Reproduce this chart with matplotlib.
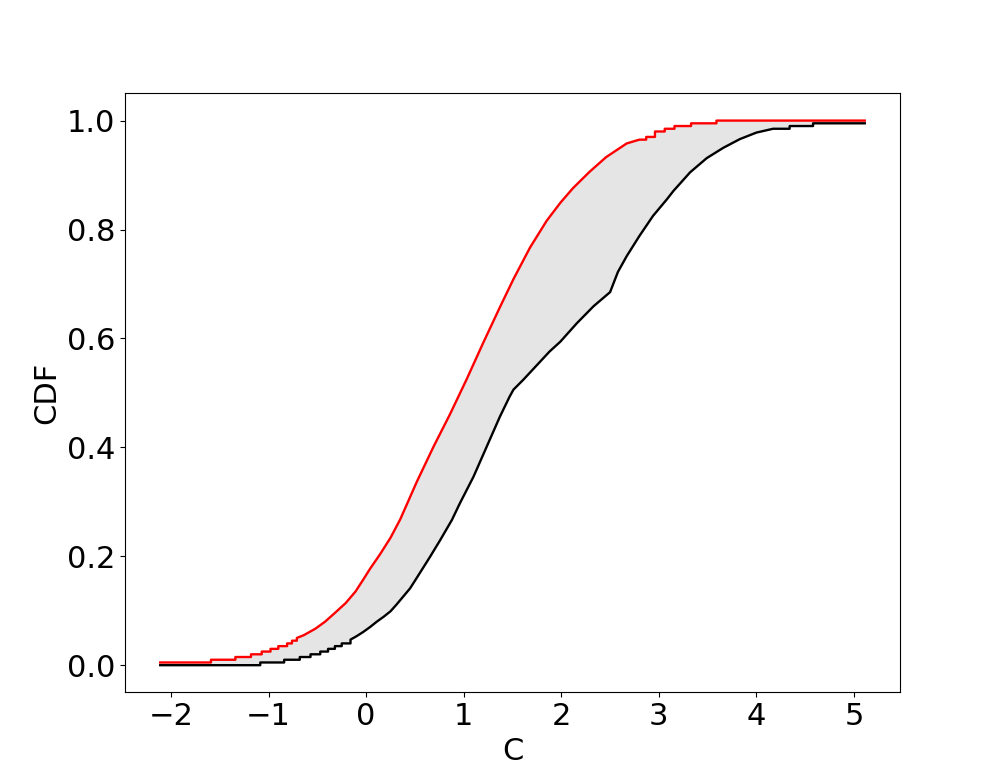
import matplotlib
matplotlib.use("Agg")
import matplotlib.pyplot as plt
import numpy as np

# p-box bounds (x value, cumulative probability)
# upper bound (red)
upper_x = [-2.11, -1.59, -1.59, -1.34, -1.34, -1.18, -1.18, -1.07, -1.07, -0.98, -0.98,
           -0.90, -0.90, -0.81, -0.81, -0.76, -0.76, -0.71, -0.71,
           -0.64, -0.52, -0.42, -0.32, -0.21, -0.11, -0.03, 0.04, 0.14, 0.25, 0.35,
           0.52, 0.69, 0.86, 1.03, 1.20, 1.37, 1.51, 1.68, 1.85, 1.99, 2.12, 2.29,
           2.46, 2.67, 2.80, 2.87, 2.87, 2.96, 2.96, 3.06, 3.06, 3.16, 3.16,
           3.33, 3.33, 3.59, 3.59, 5.11]
upper_p = [0.005, 0.005, 0.010, 0.010, 0.015, 0.015, 0.020, 0.020, 0.025, 0.025, 0.030,
           0.030, 0.035, 0.035, 0.040, 0.040, 0.045, 0.045, 0.050,
           0.055, 0.067, 0.080, 0.096, 0.114, 0.135, 0.157, 0.177, 0.203, 0.234, 0.268,
           0.337, 0.401, 0.461, 0.525, 0.592, 0.657, 0.709, 0.767, 0.816, 0.849, 0.876, 0.906,
           0.933, 0.958, 0.965, 0.965, 0.970, 0.970, 0.980, 0.980, 0.985, 0.985, 0.990,
           0.990, 0.995, 0.995, 1.000, 1.000]

# lower bound (black)
lower_x = [-2.11, -1.085, -1.085, -0.84, -0.84, -0.68, -0.68, -0.57, -0.57, -0.47, -0.47,
           -0.39, -0.39, -0.32, -0.32, -0.25, -0.25, -0.16, -0.16,
           -0.10, -0.03, 0.04, 0.11, 0.18, 0.25, 0.31, 0.38, 0.45, 0.50, 0.655, 0.76,
           0.88, 0.96, 1.10, 1.235, 1.37, 1.47, 1.51, 1.61, 1.88, 1.99, 2.16, 2.33,
           2.50, 2.58, 2.67, 2.80, 2.94, 3.08, 3.15, 3.32, 3.49, 3.66, 3.83, 4.00,
           4.17, 4.34, 4.34, 4.58, 4.58, 5.11]
lower_p = [0.000, 0.000, 0.005, 0.005, 0.010, 0.010, 0.015, 0.015, 0.020, 0.020, 0.025,
           0.025, 0.030, 0.030, 0.035, 0.035, 0.040, 0.040, 0.047,
           0.053, 0.061, 0.070, 0.080, 0.089, 0.099, 0.111, 0.126, 0.141, 0.155, 0.199, 0.230,
           0.267, 0.297, 0.346, 0.401, 0.456, 0.493, 0.506, 0.524, 0.576, 0.594, 0.628, 0.659,
           0.685, 0.722, 0.751, 0.788, 0.825, 0.855, 0.871, 0.905, 0.931, 0.950, 0.966, 0.978,
           0.985, 0.985, 0.990, 0.990, 0.995, 0.995]

fig, ax = plt.subplots(figsize=(10, 7.78), dpi=100)

# grey band between the bounds
poly_x = np.concatenate([upper_x, lower_x[::-1]])
poly_p = np.concatenate([upper_p, lower_p[::-1]])
ax.fill(poly_x, poly_p, color="#e5e5e5", linewidth=0)

ax.plot(upper_x, upper_p, color="red", lw=1.7)
ax.plot(lower_x, lower_p, color="black", lw=1.7)

ax.set_xlabel("C", fontsize=22)
ax.set_ylabel("CDF", fontsize=22)
ax.tick_params(labelsize=22)

plt.savefig("out.png", dpi=100)
